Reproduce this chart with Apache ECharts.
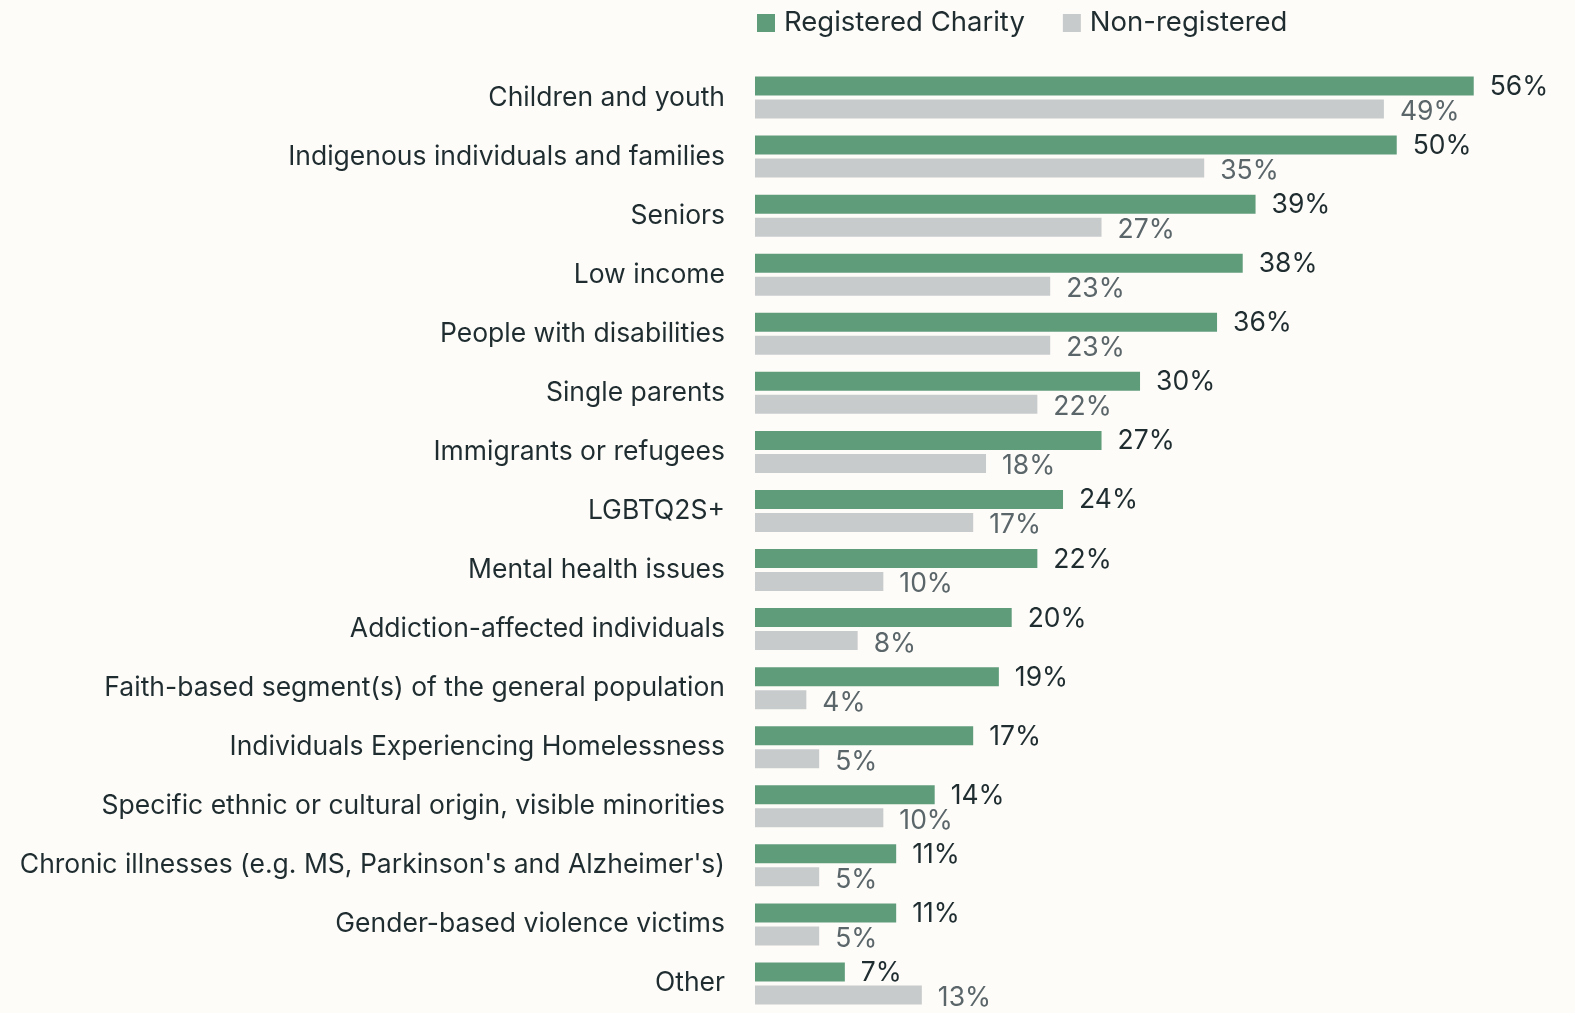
<!DOCTYPE html>
<html>
<head>
<meta charset="utf-8">
<script src="https://cdn.jsdelivr.net/npm/echarts@6/dist/echarts.min.js"></script>
<style>
  html, body { margin: 0; padding: 0; background: #fefcf9; }
  #chart { width: 1575px; height: 1013px; }
</style>
</head>
<body>
<div id="chart"></div>
<script>
const categories = [
  "Children and youth",
  "Indigenous individuals and families",
  "Seniors",
  "Low income",
  "People with disabilities",
  "Single parents",
  "Immigrants or refugees",
  "LGBTQ2S+",
  "Mental health issues",
  "Addiction-affected individuals",
  "Faith-based segment(s) of the general population",
  "Individuals Experiencing Homelessness",
  "Specific ethnic or cultural origin, visible minorities",
  "Chronic illnesses (e.g. MS, Parkinson's and Alzheimer's)",
  "Gender-based violence victims",
  "Other"
];
const registered = [56, 50, 39, 38, 36, 30, 27, 24, 22, 20, 19, 17, 14, 11, 11, 7];
const nonRegistered = [49, 35, 27, 23, 23, 22, 18, 17, 10, 8, 4, 5, 10, 5, 5, 13];

const font = "Inter";
const dark = "#1f2d30";

const chart = echarts.init(document.getElementById("chart"));
chart.setOption({
  backgroundColor: "#fefcf9",
  animation: false,
  legend: {
    top: 4,
    left: 752,
    itemWidth: 18,
    itemHeight: 18,
    itemGap: 38,
    icon: "rect",
    textStyle: { fontFamily: font, fontSize: 27.5, color: dark, padding: [0, 0, 0, 4] },
    data: ["Registered Charity", "Non-registered"]
  },
  grid: { left: 755, right: 5, top: 68, bottom: 0 },
  xAxis: {
    type: "value",
    min: 0,
    max: 63.5,
    show: false
  },
  yAxis: {
    type: "category",
    inverse: true,
    data: categories,
    axisLine: { show: false },
    axisTick: { show: false },
    axisLabel: { margin: 30, fontFamily: font, fontSize: 26.5, color: dark }
  },
  series: [
    {
      name: "Registered Charity",
      type: "bar",
      data: registered,
      barWidth: 19,
      barGap: "21%",
      itemStyle: { color: "#5f9c7a" },
      label: {
        show: true,
        position: "right",
        distance: 16,
        offset: [0, 1],
        formatter: "{c}%",
        fontFamily: font,
        fontSize: 26.5,
        color: dark
      }
    },
    {
      name: "Non-registered",
      type: "bar",
      data: nonRegistered,
      barWidth: 19,
      itemStyle: { color: "#c8cbcc" },
      label: {
        show: true,
        position: "right",
        distance: 16,
        offset: [0, 3],
        formatter: "{c}%",
        fontFamily: font,
        fontSize: 26.5,
        color: "#5b666a"
      }
    }
  ]
});
</script>
</body>
</html>
